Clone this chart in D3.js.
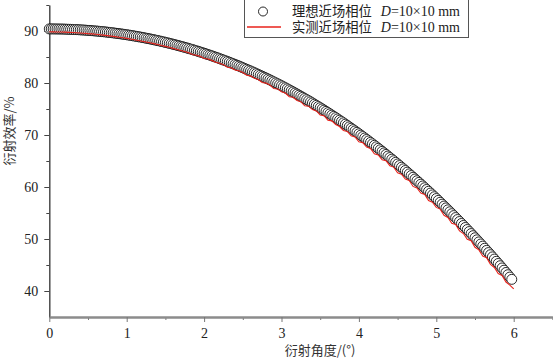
<!DOCTYPE html>
<html><head><meta charset="utf-8">
<script src="https://cdn.jsdelivr.net/npm/d3@7"></script>
<style>body{margin:0;background:#fff}svg{display:block}</style>
</head><body><svg id="c" width="553" height="359"></svg>
<script>
// ---- data ----
const idealStep = 0.025; // angle step (deg) of the ideal near-field phase series
const idealEff = [
90.40,90.40,90.40,90.39,90.39,90.38,90.38,90.37,90.36,90.34,
90.33,90.32,90.30,90.28,90.27,90.25,90.22,90.20,90.18,90.15,
90.12,90.10,90.07,90.03,90.00,89.97,89.93,89.89,89.86,89.82,
89.77,89.73,89.69,89.64,89.59,89.54,89.49,89.44,89.39,89.33,
89.28,89.22,89.16,89.10,89.03,88.97,88.90,88.84,88.77,88.70,
88.62,88.55,88.48,88.40,88.32,88.24,88.16,88.08,87.99,87.91,
87.82,87.73,87.64,87.55,87.45,87.36,87.26,87.16,87.06,86.96,
86.85,86.75,86.64,86.53,86.42,86.31,86.19,86.08,85.96,85.84,
85.72,85.60,85.47,85.35,85.22,85.09,84.96,84.83,84.69,84.56,
84.42,84.28,84.14,84.00,83.85,83.71,83.56,83.41,83.26,83.10,
82.95,82.79,82.63,82.47,82.31,82.14,81.98,81.81,81.64,81.47,
81.30,81.12,80.95,80.77,80.59,80.40,80.22,80.03,79.85,79.66,
79.47,79.27,79.08,78.88,78.68,78.48,78.28,78.07,77.87,77.66,
77.45,77.24,77.02,76.81,76.59,76.37,76.15,75.92,75.70,75.47,
75.24,75.01,74.78,74.54,74.30,74.06,73.82,73.58,73.34,73.09,
72.84,72.59,72.34,72.08,71.82,71.56,71.30,71.04,70.78,70.51,
70.24,69.97,69.70,69.42,69.14,68.86,68.58,68.30,68.01,67.73,
67.44,67.15,66.85,66.56,66.26,65.96,65.66,65.35,65.05,64.74,
64.43,64.12,63.80,63.49,63.17,62.85,62.52,62.20,61.87,61.54,
61.21,60.88,60.54,60.20,59.86,59.52,59.18,58.83,58.48,58.13,
57.78,57.42,57.06,56.70,56.34,55.98,55.61,55.24,54.87,54.50,
54.12,53.74,53.36,52.98,52.60,52.21,51.82,51.43,51.04,50.64,
50.24,49.84,49.44,49.04,48.63,48.22,47.81,47.39,46.98,46.56,
46.14,45.71,45.29,44.86,44.43,44.00,43.56,43.13,42.68,42.24
];
const measStep = 0.05; // angle step (deg) of the measured series
const measEff = [
89.85,89.84,89.82,89.81,89.78,89.74,89.70,89.67,89.61,89.56,
89.49,89.44,89.36,89.28,89.20,89.11,89.02,88.91,88.80,88.70,
88.58,88.45,88.31,88.18,88.04,87.88,87.73,87.57,87.40,87.22,
87.04,86.86,86.66,86.46,86.25,86.04,85.82,85.49,85.35,85.12,
84.72,84.61,84.35,83.99,83.81,83.53,83.04,82.95,82.50,82.34,
82.02,81.50,81.37,80.93,80.68,80.09,79.98,79.61,78.93,78.86,
78.32,78.07,77.36,77.26,76.64,76.41,75.62,75.54,74.89,74.63,
73.86,73.70,72.86,72.72,72.03,71.63,70.87,70.69,69.86,69.64,
68.69,68.54,67.67,67.41,66.38,66.15,65.25,65.06,64.10,63.83,
62.75,62.47,61.53,61.27,60.11,59.80,58.82,58.58,57.39,57.09,
56.08,55.75,54.57,54.14,53.04,52.78,51.56,51.05,49.96,49.67,
48.41,47.91,46.74,46.41,45.12,44.53,43.37,43.00,41.72,41.14,
40.40
];
const xMajor = [0,1,2,3,4,5,6];
const xMinor = [0.5,1.5,2.5,3.5,4.5,5.5,6.5];
const yMajor = [40,50,60,70,80,90];
const yMinor = [45,55,65,75,85,95];
const legendLabels = ["理想近场相位", "实测近场相位"];
const legendSuffix = "=10×10 mm";
const xTitle = "衍射角度/(°)";
const yTitle = "衍射效率/%";

// ---- chart ----
const svg = d3.select("#c");
const x = d3.scaleLinear().domain([0, 6.5]).range([49.3, 552.4]);
const y = d3.scaleLinear().domain([35, 95]).range([317, 5]);
const serif = "'Liberation Serif','Times New Roman',serif";
const cjk = "'Noto Sans CJK SC','Noto Sans CJK JP',sans-serif";
const fmt = d3.format("d");
const red = "#e8221b";

function styleAxis(g, color, width) {
  g.select(".domain").attr("stroke", color).attr("stroke-width", width);
  g.selectAll(".tick line").attr("stroke", color).attr("stroke-width", 1);
  g.selectAll("text").attr("font-family", serif).attr("font-size", 14).attr("fill", "#222");
}
// y axis
const gyMinor = svg.append("g").attr("transform", `translate(${x(0)},0)`)
  .call(d3.axisLeft(y).tickValues(yMinor).tickSize(3).tickFormat("").tickSizeOuter(0));
styleAxis(gyMinor, "#444", 1);
const gy = svg.append("g").attr("transform", `translate(${x(0)},0)`)
  .call(d3.axisLeft(y).tickValues(yMajor).tickSize(5).tickPadding(6).tickFormat(fmt).tickSizeOuter(0));
styleAxis(gy, "#444", 1);
// x axis
const gxMinor = svg.append("g").attr("transform", `translate(0,${y(35)})`)
  .call(d3.axisBottom(x).tickValues(xMinor).tickSize(3).tickFormat("").tickSizeOuter(0));
styleAxis(gxMinor, "#8c8c8c", 2);
const gx = svg.append("g").attr("transform", `translate(0,${y(35)})`)
  .call(d3.axisBottom(x).tickValues(xMajor).tickSize(5).tickPadding(6).tickFormat(fmt).tickSizeOuter(0));
styleAxis(gx, "#8c8c8c", 2);
gx.selectAll(".tick line").attr("stroke", "#777");
gxMinor.selectAll(".tick line").attr("stroke", "#777");

// titles
svg.append("text").attr("x", 320).attr("y", 355).attr("text-anchor", "middle")
  .attr("font-family", cjk).attr("font-size", 13).attr("fill", "#333").text(xTitle);
svg.append("text").attr("transform", "translate(14,131) rotate(-90)").attr("text-anchor", "middle")
  .attr("font-family", cjk).attr("font-size", 13).attr("fill", "#333").text(yTitle);

// ideal circles
const ideal = idealEff.map((v, i) => ({a: i * idealStep, v}));
svg.append("g").selectAll("circle").data(ideal).join("circle")
  .attr("cx", d => x(d.a)).attr("cy", d => y(d.v)).attr("r", 5)
  .attr("fill", "#fff").attr("stroke", "#111").attr("stroke-width", 0.9);

// measured line
const meas = measEff.map((v, i) => ({a: i * measStep, v}));
svg.append("path").datum(meas)
  .attr("d", d3.line().x(d => x(d.a)).y(d => y(d.v)))
  .attr("fill", "none").attr("stroke", red).attr("stroke-width", 1.1);

// legend
const lg = svg.append("g");
lg.append("rect").attr("x", 244.5).attr("y", -0.5).attr("width", 224).attr("height", 38)
  .attr("fill", "#fff").attr("stroke", "#555").attr("stroke-width", 1);
lg.append("circle").attr("cx", 263).attr("cy", 11.5).attr("r", 4.5)
  .attr("fill", "#fff").attr("stroke", "#111").attr("stroke-width", 0.9);
lg.append("line").attr("x1", 247).attr("x2", 281).attr("y1", 27).attr("y2", 27)
  .attr("stroke", red).attr("stroke-width", 1.6);
legendLabels.forEach((lab, i) => {
  const t = lg.append("text").attr("x", 292).attr("y", 16 + i * 16)
    .attr("font-size", 13).attr("fill", "#222");
  t.append("tspan").attr("font-family", cjk).attr("font-size", 13.3).text(lab);
  t.append("tspan").attr("font-family", serif).attr("font-size", 14).attr("dx", 9).attr("font-style", "italic").text("D");
  t.append("tspan").attr("font-family", serif).attr("font-size", 14).text(legendSuffix);
});
</script>
</body></html>
